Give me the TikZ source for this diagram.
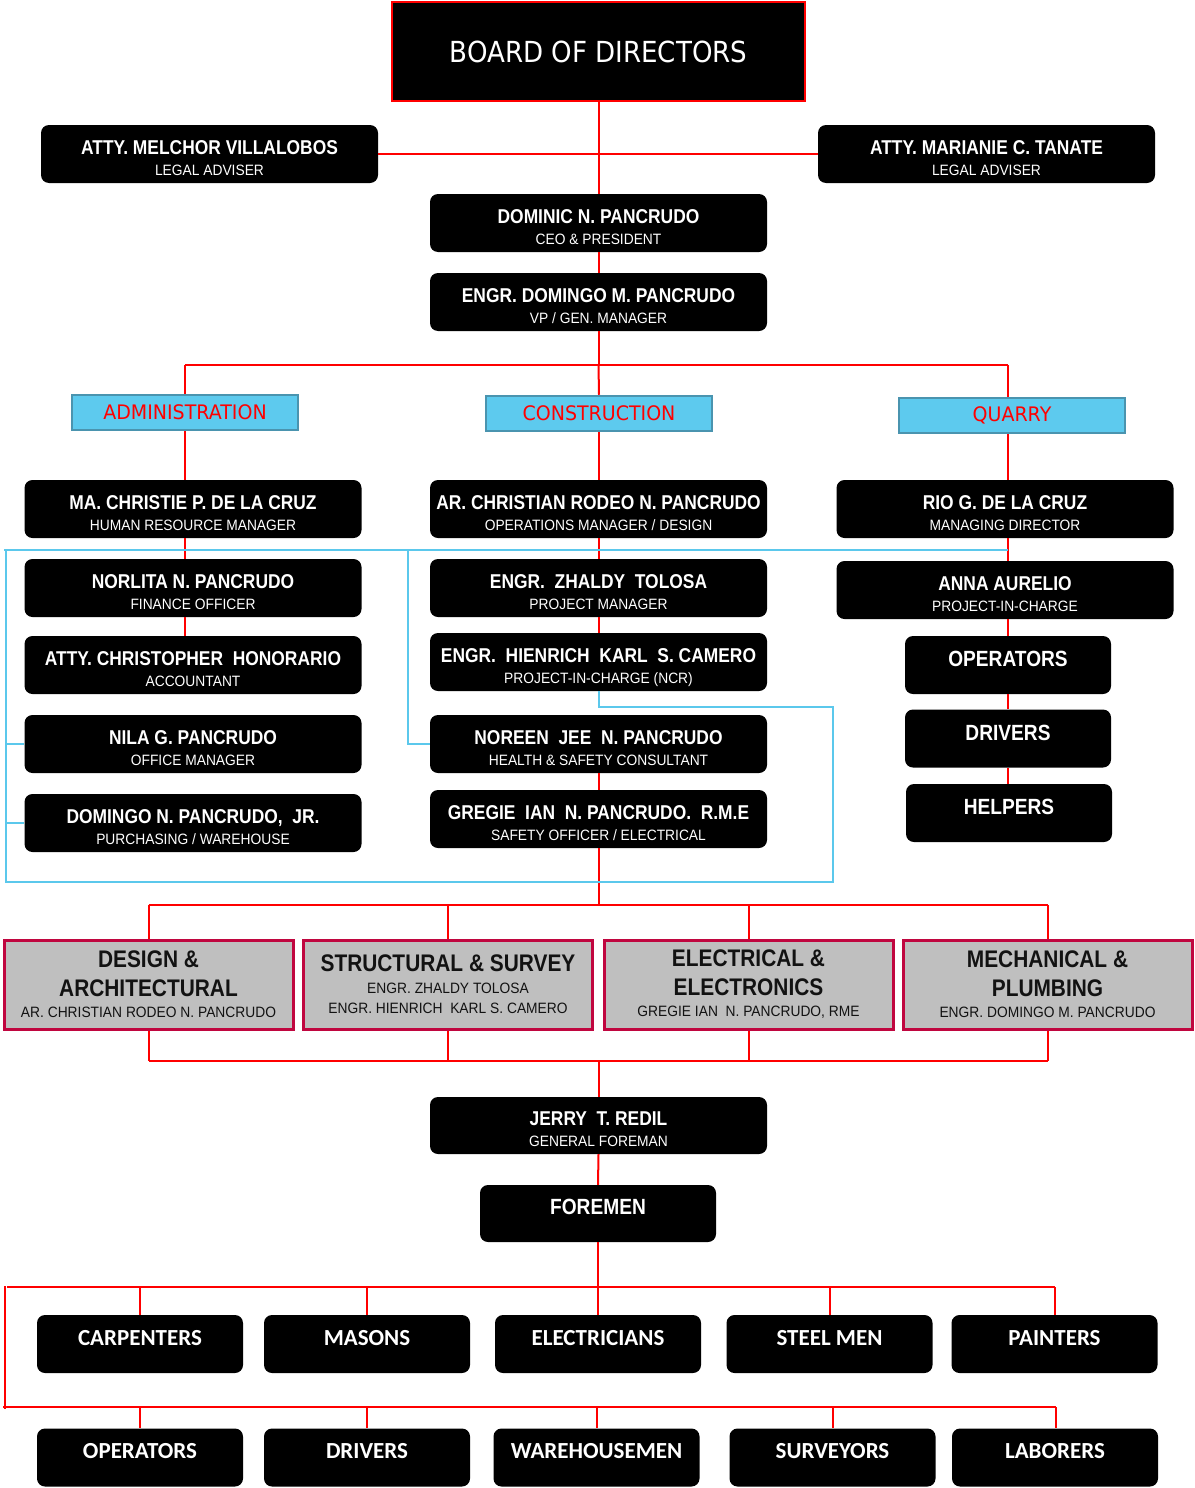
\documentclass[tikz,border=0pt]{standalone}
\usepackage{fontspec}
\newfontfamily\nar[FakeStretch=0.87]{Liberation Sans}
\newfontfamily\narr[FakeStretch=0.92]{Liberation Sans}
\newfontfamily\tah[FakeStretch=0.90]{DejaVu Sans}
\newfontfamily\tahh[FakeStretch=0.95]{DejaVu Sans}
\newfontfamily\carl{Carlito}
\newcommand\nmf{\nar\bfseries\fontsize{20}{21}\selectfont}
\newcommand\nmb{\nar\bfseries\fontsize{22}{21}\selectfont}
\newcommand\tlf{\narr\fontsize{15}{21}\selectfont}
\newcommand\gtf{\nar\bfseries\fontsize{24}{29}\selectfont}
\newcommand\gsf{\narr\fontsize{15}{29}\selectfont}
\newcommand\btf{\carl\bfseries\fontsize{23}{24}\selectfont}
% two-line box text: name, title
\newcommand\twol[2]{\rule{0pt}{25pt}\nmf #1\\\tlf #2\rule[-4pt]{0pt}{4pt}}
% one-line text set above the box centre
\newcommand\onel[2]{#1\rule[-#2pt]{0pt}{#2pt}}
\definecolor{lblue}{HTML}{5DCAEE}
\definecolor{dblue}{HTML}{4A94AF}
\definecolor{blu}{HTML}{5BC8EC}
\definecolor{crim}{HTML}{C0063F}
\definecolor{gry}{HTML}{BFBFBF}
\tikzset{
  pbox/.style={fill=black, rounded corners=8pt, minimum width=337pt, minimum height=58pt, inner sep=0pt, text=white, align=center, font=\fontsize{15}{21}\selectfont},
  sbox/.style={pbox, minimum width=206pt},
  hbox/.style={fill=lblue, draw=dblue, line width=2.5pt, minimum width=226pt, minimum height=35pt, inner sep=0pt, text=red, font=\tahh\fontsize{20}{22}\selectfont},
  gbox/.style={fill=gry, draw=crim, line width=3pt, minimum width=289pt, minimum height=89pt, inner sep=0pt, align=center, text={black!93}, font=\fontsize{15}{29}\selectfont},
  rl/.style={draw=red, line width=2pt},
  bl/.style={draw=blu, line width=2pt},
}
\begin{document}
\begin{tikzpicture}[x=1pt,y=-1pt]
\useasboundingbox (0,0) rectangle (1194,1488);
% board
\node[fill=black, draw=red, line width=2.5pt, minimum width=413pt, minimum height=99pt, inner sep=0pt, text=white, font=\tah\fontsize{29}{30}\selectfont] (board) at (598.5,51.5) {BOARD OF DIRECTORS};
\node[pbox] (legL) at (209.5,154) {\twol{ATTY. MELCHOR VILLALOBOS}{LEGAL ADVISER}};
\node[pbox] (legR) at (986.5,154) {\twol{ATTY. MARIANIE C. TANATE}{LEGAL ADVISER}};
\node[pbox] (ceo) at (598.5,223) {\twol{DOMINIC N. PANCRUDO}{CEO \& PRESIDENT}};
\node[pbox] (vp) at (598.5,302) {\twol{ENGR. DOMINGO M. PANCRUDO}{VP / GEN. MANAGER}};
% headings
\node[hbox] (hAdm) at (185,412.5) {ADMINISTRATION};
\node[hbox] (hCon) at (599,413.5) {CONSTRUCTION};
\node[hbox] (hQua) at (1012,415.5) {QUARRY};
% row 1
\node[pbox] (chr) at (193,509) {\twol{MA. CHRISTIE P. DE LA CRUZ}{HUMAN RESOURCE MANAGER}};
\node[pbox] (arc) at (598.5,509) {\twol{AR. CHRISTIAN RODEO N. PANCRUDO}{OPERATIONS MANAGER / DESIGN}};
\node[pbox] (rio) at (1005,509) {\twol{RIO G. DE LA CRUZ}{MANAGING DIRECTOR}};
% admin
\node[pbox] (nor) at (193,588) {\twol{NORLITA N. PANCRUDO}{FINANCE OFFICER}};
\node[pbox] (atty) at (193,665) {\twol{ATTY. CHRISTOPHER \ HONORARIO}{ACCOUNTANT}};
\node[pbox] (nila) at (193,744) {\twol{NILA G. PANCRUDO}{OFFICE MANAGER}};
\node[pbox] (djr) at (193,823) {\twol{DOMINGO N. PANCRUDO, \ JR.}{PURCHASING / WAREHOUSE}};
% construction
\node[pbox] (zha) at (598.5,588) {\twol{ENGR. \ ZHALDY \ TOLOSA}{PROJECT MANAGER}};
\node[pbox] (hie) at (598.5,662) {\twol{ENGR. \ HIENRICH \ KARL \ S. CAMERO}{PROJECT-IN-CHARGE (NCR)}};
\node[pbox] (nrn) at (598.5,744) {\twol{NOREEN \ JEE \ N. PANCRUDO}{HEALTH \& SAFETY CONSULTANT}};
\node[pbox] (gre) at (598.5,819) {\twol{GREGIE \ IAN \ N. PANCRUDO. \ R.M.E}{SAFETY OFFICER / ELECTRICAL}};
% quarry
\node[pbox] (ann) at (1005,590) {\twol{ANNA AURELIO}{PROJECT-IN-CHARGE}};
\node[sbox] (qop) at (1008,665) {\onel{\nmb OPERATORS}{12}};
\node[sbox] (qdr) at (1008,738.5) {\onel{\nmb DRIVERS}{12}};
\node[sbox] (qhl) at (1009,813) {\onel{\nmb HELPERS}{12}};
% departments
\node[gbox] (d1) at (148.5,984.5) {\gtf DESIGN \&\\\gtf ARCHITECTURAL\\[-8pt]\gsf AR. CHRISTIAN RODEO N. PANCRUDO};
\node[gbox] (d2) at (448,984.5) {\gtf STRUCTURAL \& SURVEY\\[-7pt]\gsf ENGR. ZHALDY TOLOSA\\[-9pt]\gsf ENGR. HIENRICH \ KARL S. CAMERO};
\node[gbox] (d3) at (748.5,984.5) {\gtf ELECTRICAL \&\\\gtf ELECTRONICS\\[-8pt]\gsf GREGIE IAN \ N. PANCRUDO, RME};
\node[gbox] (d4) at (1047.5,984.5) {\gtf MECHANICAL \&\\\gtf PLUMBING\\[-8pt]\gsf ENGR. DOMINGO M. PANCRUDO};
% foremen
\node[pbox, minimum height=57pt] (jer) at (598.5,1125.5) {\twol{JERRY \ T. REDIL}{GENERAL FOREMAN}};
\node[pbox, minimum width=236pt, minimum height=57pt] (fmn) at (598,1213.5) {\onel{\nmb FOREMEN}{13}};
% workers
\node[sbox] (car) at (140,1344) {\onel{\btf CARPENTERS}{12}};
\node[sbox] (mas) at (367,1344) {\onel{\btf MASONS}{12}};
\node[sbox] (ele) at (598,1344) {\onel{\btf ELECTRICIANS}{12}};
\node[sbox] (stl) at (829.5,1344) {\onel{\btf STEEL MEN}{12}};
\node[sbox] (pai) at (1054.5,1344) {\onel{\btf PAINTERS}{12}};
\node[sbox] (opr) at (140,1457.5) {\onel{\btf OPERATORS}{13}};
\node[sbox] (drv) at (367,1457.5) {\onel{\btf DRIVERS}{13}};
\node[sbox] (whm) at (596.5,1457.5) {\onel{\btf WAREHOUSEMEN}{13}};
\node[sbox] (sur) at (832.5,1457.5) {\onel{\btf SURVEYORS}{13}};
\node[sbox] (lab) at (1055,1457.5) {\onel{\btf LABORERS}{13}};
% coordinates
\coordinate (topJ) at (598.5,365);
\coordinate (aJ) at (185,365);
\coordinate (qJ) at (1008,365);
\coordinate (eJ) at (598.5,905);
\coordinate (fJ) at (598.5,1061);
\coordinate (wJ) at (598,1287);
\coordinate (wL) at (5,1287);
\coordinate (w2L) at (5,1407);
% red connectors
\draw[rl] (board.south) -- (ceo.north);
\draw[rl, line width=1.6pt] (legL.east) -- (legR.west);
\draw[rl] (ceo.south) -- (vp.north);
\draw[rl] (vp.south) -- (topJ);
\draw[rl] (aJ) -- (qJ);
\draw[rl] (aJ) -- (aJ |- hAdm.north);
\draw[rl] (topJ) -- (hCon.north);
\draw[rl] (qJ) -- (qJ |- hQua.north);
\draw[rl] (hAdm.south) -- (hAdm.south |- chr.north);
\draw[rl] (hCon.south) -- (hCon.south |- arc.north);
\draw[rl] (qJ |- hQua.south) -- (qJ |- rio.north);
\draw[rl] (aJ |- chr.south) -- (aJ |- nor.north);
\draw[rl] (aJ |- nor.south) -- (aJ |- atty.north);
\draw[rl] (arc.south) -- (zha.north);
\draw[rl] (zha.south) -- (hie.north);
\draw[rl] (nrn.south) -- (gre.north);
\draw[rl] (qJ |- rio.south) -- (qJ |- ann.north);
\draw[rl] (qJ |- ann.south) -- (qop.north);
\draw[rl] (qop.south) -- (qdr.north);
\draw[rl] (qJ |- qdr.south) -- (qJ |- qhl.north);
\draw[rl] (gre.south) -- (eJ);
\draw[rl] (eJ -| d1.north) -- (eJ -| d4.north);
\foreach \d in {d1,d2,d3,d4} {
  \draw[rl] (eJ -| \d.north) -- (\d.north);
  \draw[rl] (\d.south) -- (fJ -| \d.south);
}
\draw[rl] (fJ -| d1.south) -- (fJ -| d4.south);
\draw[rl] (fJ) -- (jer.north);
\draw[rl] (jer.south) -- (fmn.north);
\draw[rl] (fmn.south) -- (wJ);
\draw[rl] (7,1287) -- (wJ -| pai.north);
\draw[rl] (5,1286) -- (5,1409);
\draw[rl] (3,1407) -- (1056,1407);
\foreach \w in {car,mas,stl,pai} \draw[rl] (wJ -| \w.north) -- (\w.north);
\draw[rl] (wJ) -- (ele.north);
\foreach \w in {opr,drv,whm,sur} \draw[rl] (w2L -| \w.north) -- (\w.north);
\draw[rl] (1056,1407) -- (lab.north -| 1056,0);
% blue connectors
\draw[bl] (4,550) -- (qJ |- 0,550);
\draw[bl] (hie.south) |- (833,707) |- (6,882) -- (6,550);
\draw[bl] (6,744) -- (nila.west);
\draw[bl] (6,823) -- (djr.west);
\draw[bl] (408,550) |- (nrn.west);
\end{tikzpicture}
\end{document}
